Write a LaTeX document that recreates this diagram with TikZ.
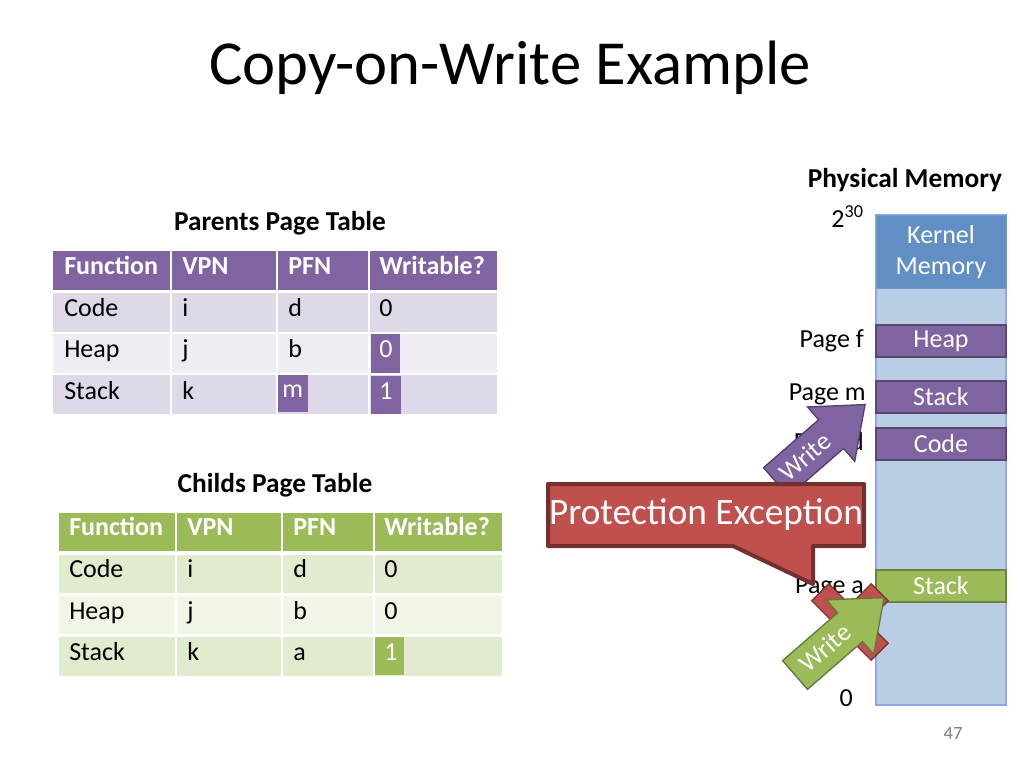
\documentclass[tikz,border=0pt]{standalone}
\usepackage{fontspec}
\setmainfont{Carlito}
\begin{document}
\begin{tikzpicture}[x=0.75pt,y=-0.75pt,
  txt/.style={font=\fontsize{19.5}{22}\selectfont, anchor=west, inner sep=0, text height=1.45ex, text depth=.2ex},
  hdr/.style={font=\fontsize{19.5}{22}\selectfont\bfseries, anchor=west, inner sep=0, text=white, text height=1.45ex, text depth=.2ex},
  mem/.style={draw=#1!70!black, line width=1.5pt, fill=#1, text=white, font=\fontsize{19.5}{22}\selectfont, minimum width=97.5pt, minimum height=24pt, inner sep=0},
  lbl/.style={font=\fontsize{19.5}{22}\selectfont, anchor=east, inner sep=0},
  arr/.style={draw=#1!65!black, line width=1pt, fill=#1}]
\definecolor{pur}{HTML}{8064A2}
\definecolor{grn}{HTML}{9BBB59}
\definecolor{redc}{HTML}{C0504D}
\definecolor{kern}{HTML}{4F81BD}
\definecolor{memb}{HTML}{B9CDE5}
\useasboundingbox (0,0) rectangle (1024,768);
\fill[white] (0,0) rectangle (1024,768);
\node[font=\fontsize{47}{52}\selectfont] (title) at (510,68) {Copy-on-Write Example};
% parent table
\node[font=\fontsize{20.5}{24}\selectfont\bfseries] (pt) at (280,223) {Parents Page Table};
\foreach \a/\b in {53/170,172/276,278/368,370/497}{
  \fill[pur] (\a,251) rectangle (\b,290);
  \fill[pur!25!white] (\a,293) rectangle (\b,332);
  \fill[pur!12!white] (\a,334) rectangle (\b,373);
  \fill[pur!25!white] (\a,375) rectangle (\b,414);}
\fill[pur] (278,375) rectangle (308,412);
\fill[pur] (371,334) rectangle (400,373);
\fill[pur] (371,376) rectangle (401,414);
\node[hdr] (p11) at (64,271) {Function}; \node[hdr] (p12) at (182,271) {VPN};
\node[hdr] (p13) at (288,271) {PFN}; \node[hdr] (p14) at (379,271) {Writable?};
\node[txt] (p21) at (64,313) {Code}; \node[txt] (p22) at (182,313) {i};
\node[txt] (p23) at (288,313) {d}; \node[txt] (p24) at (379,313) {0};
\node[txt] (p31) at (64,354) {Heap}; \node[txt] (p32) at (182,354) {j};
\node[txt] (p33) at (288,354) {b}; \node[txt,text=white] (p34) at (379,354) {0};
\node[txt] (p41) at (64,396) {Stack}; \node[txt] (p42) at (182,396) {k};
\node[txt,text=white] (p43) at (282,394) {m}; \node[txt,text=white] (p44) at (379,396) {1};
% child table
\node[font=\fontsize{20.5}{24}\selectfont\bfseries] (ct) at (275,485) {Childs Page Table};
\foreach \a/\b in {59/175,177/281,283/373,375/502}{
  \fill[grn] (\a,513) rectangle (\b,551);
  \fill[grn!30!white] (\a,555) rectangle (\b,593);
  \fill[grn!15!white] (\a,596) rectangle (\b,634);
  \fill[grn!30!white] (\a,637) rectangle (\b,676);}
\fill[grn] (375,637) rectangle (404,675);
\node[hdr] (c11) at (69,532) {Function}; \node[hdr] (c12) at (187,532) {VPN};
\node[hdr] (c13) at (293,532) {PFN}; \node[hdr] (c14) at (384,532) {Writable?};
\node[txt] (c21) at (69,574) {Code}; \node[txt] (c22) at (187,574) {i};
\node[txt] (c23) at (293,574) {d}; \node[txt] (c24) at (384,574) {0};
\node[txt] (c31) at (69,616) {Heap}; \node[txt] (c32) at (187,616) {j};
\node[txt] (c33) at (293,616) {b}; \node[txt] (c34) at (384,616) {0};
\node[txt] (c41) at (69,657) {Stack}; \node[txt] (c42) at (187,657) {k};
\node[txt] (c43) at (293,657) {a}; \node[txt,text=white] (c44) at (384,657) {1};
% physical memory
\node[font=\fontsize{20.5}{24}\selectfont\bfseries] (pm) at (905,180) {Physical Memory};
\draw[draw=memb!80!blue, fill=memb, line width=1pt] (876,215) rectangle (1006,705);
\node[fill=kern!90!white, draw=kern!80!white, text=white, minimum width=97.5pt, minimum height=55pt, inner sep=0, align=center, font=\fontsize{19.5}{23}\selectfont] (kern) at (941,252) {Kernel\\Memory};
\node[lbl] (e30) at (864,217) {2\textsuperscript{30}};
\node[mem=pur] (heap) at (941,341) {Heap};
\node[mem=pur] (stk) at (941,397) {Stack};
\node[mem=pur] (code) at (941,444) {Code};
\node[mem=grn] (stka) at (941,586) {Stack};
\node[lbl] (pf) at (864,341) {Page f};
\node[lbl] (pmm) at (866,394) {Page m};
\node[lbl] (pd) at (864,444) {Page d};
\node[lbl] (pa) at (864,587) {Page a};
\node[lbl] (z) at (853,698) {0};
\node[font=\fontsize{14}{16}\selectfont, text=gray] (num) at (953,733) {47};
% purple write arrow
\begin{scope}[shift={(776,482)},rotate=41]
\draw[arr=pur] (0,-19)--(73,-19)--(73,-36)--(118,0)--(73,36)--(73,19)--(0,19)--cycle;
\end{scope}
\node[rotate=41, text=white, font=\fontsize{19.5}{22}\selectfont] (w1) at (805,457) {Write};
% callout
\draw[fill=redc, draw=redc!60!black, line width=3pt, line join=round]
  (548,484) -- (864,484) -- (864,546) -- (813,546) -- (813,584) -- (733,546) -- (548,546) -- cycle;
\node[text=white, font=\fontsize{28}{32}\selectfont] (pe) at (706,515) {Protection Exception};
% red X
\begin{scope}[shift={(850,622)}]
\draw[arr=redc, rotate=-45] (-42,-12) rectangle (42,12);
\draw[arr=redc, rotate=45] (-42,-12) rectangle (42,12);
\end{scope}
% green write arrow
\begin{scope}[shift={(795,675)},rotate=41]
\draw[arr=grn] (0,-19)--(73,-19)--(73,-36)--(118,0)--(73,36)--(73,19)--(0,19)--cycle;
\end{scope}
\node[rotate=41, text=white, font=\fontsize{19.5}{22}\selectfont] (w2) at (825,648) {Write};
\end{tikzpicture}
\end{document}
